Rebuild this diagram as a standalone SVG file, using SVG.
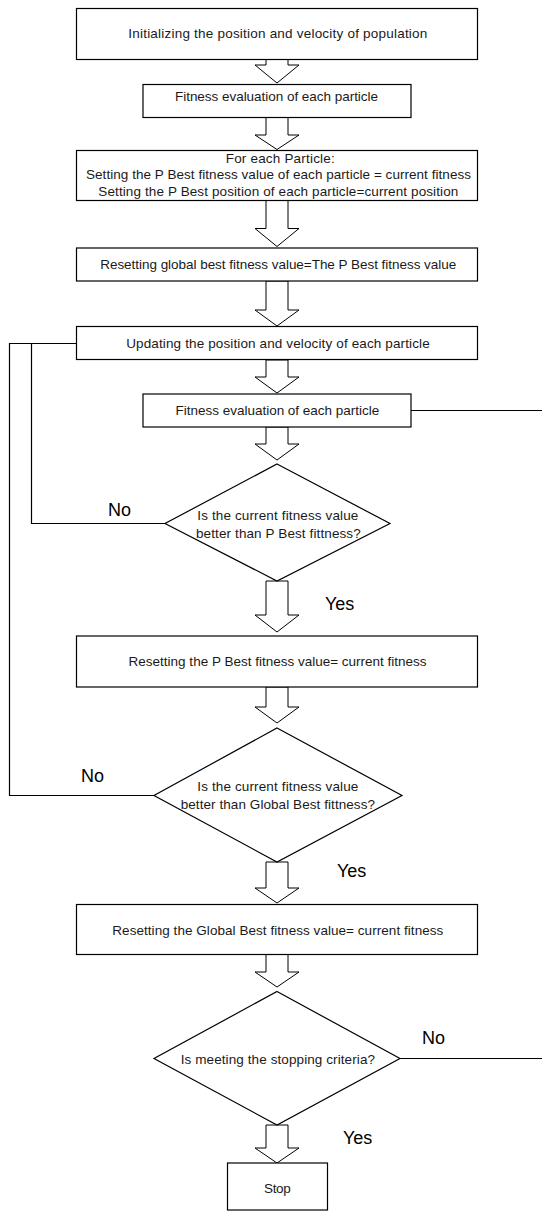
<svg xmlns="http://www.w3.org/2000/svg" width="542" height="1212" viewBox="0 0 542 1212">
<style>
.box{fill:#fff;stroke:#000;stroke-width:1.2}
.arr{fill:#fff;stroke:#000;stroke-width:1}
.ln{fill:none;stroke:#000;stroke-width:1.2}
.t{font-family:"Liberation Sans",Arial,sans-serif;font-size:13.5px;fill:#1a1a1a}
.lb{font-family:"Liberation Sans",Arial,sans-serif;font-size:18px;fill:#000}
</style>
<rect width="542" height="1212" fill="#fff"/>
<g id="connectors">
<polyline class="ln" points="154,795.5 9.5,795.5 9.5,343.5 76.5,343.5"/>
<polyline class="ln" points="165,523.5 31.5,523.5 31.5,343.5"/>
<line class="ln" x1="411" y1="410.5" x2="542" y2="410.5"/>
<line class="ln" x1="400" y1="1058.5" x2="542" y2="1058.5"/>
<polygon class="arr" points="266,59.5 288,59.5 288,65 299,65 277,83 255,65 266,65"/>
<polygon class="arr" points="266,117.5 288,117.5 288,135 299,135 277,149.5 255,135 266,135"/>
<polygon class="arr" points="266,200.5 288,200.5 288,228.5 299,228.5 277,246.5 255,228.5 266,228.5"/>
<polygon class="arr" points="266,281 288,281 288,310 299,310 277,326 255,310 266,310"/>
<polygon class="arr" points="266,360 288,360 288,377 299,377 277,393 255,377 266,377"/>
<polygon class="arr" points="266,427 288,427 288,444 299,444 277,460 255,444 266,444"/>
<polygon class="arr" points="266,581 288,581 288,615 299,615 277,632 255,615 266,615"/>
<polygon class="arr" points="266,687 288,687 288,707 299,707 277,723 255,707 266,707"/>
<polygon class="arr" points="266,862 288,862 288,888 299,888 277,903 255,888 266,888"/>
<polygon class="arr" points="266,954.5 288,954.5 288,972 299,972 277,987 255,972 266,972"/>
<polygon class="arr" points="266,1125 288,1125 288,1148 299,1148 277,1163 255,1148 266,1148"/>
<text class="lb" x="108" y="516">No</text>
<text class="lb" x="325" y="610">Yes</text>
<text class="lb" x="81" y="782">No</text>
<text class="lb" x="337" y="877">Yes</text>
<text class="lb" x="422" y="1044">No</text>
<text class="lb" x="343" y="1144">Yes</text>
</g>
<g id="n1"><rect class="box" x="76.5" y="8.5" width="401" height="51"/>
<text class="t" x="128.3" y="38" textLength="299">Initializing the position and velocity of population</text></g>
<g id="n2"><rect class="box" x="143" y="84.5" width="268" height="33"/>
<text class="t" x="175" y="101" textLength="203">Fitness evaluation of each particle</text></g>
<g id="n3"><rect class="box" x="76.5" y="150.5" width="401" height="50"/>
<text class="t" x="225.7" y="162.5" textLength="109">For each Particle:</text>
<text class="t" x="86" y="179" textLength="385">Setting the P Best fitness value of each particle = current fitness</text>
<text class="t" x="98.3" y="195.5" textLength="360">Setting the P Best position of each particle=current position</text></g>
<g id="n4"><rect class="box" x="76.5" y="248" width="401" height="33"/>
<text class="t" x="100.2" y="268.5" textLength="356">Resetting global best fitness value=The P Best fitness value</text></g>
<g id="n5"><rect class="box" x="76.5" y="326.5" width="401" height="33"/>
<text class="t" x="126.2" y="347.5" textLength="303.5">Updating the position and velocity of each particle</text></g>
<g id="n6"><rect class="box" x="143" y="394" width="268" height="33"/>
<text class="t" x="175.6" y="414.5" textLength="203.6">Fitness evaluation of each particle</text></g>
<g id="d1"><polygon class="box" points="277,464 390,523.5 277,581 165,523.5"/>
<text class="t" x="197.3" y="520" textLength="161">Is the current fitness value</text>
<text class="t" x="196" y="537.5" textLength="164.7">better than P Best fittness?</text></g>
<g id="n7"><rect class="box" x="76.5" y="636" width="401" height="51"/>
<text class="t" x="128.6" y="666" textLength="298">Resetting the P Best fitness value= current fitness</text></g>
<g id="d2"><polygon class="box" points="277,728 402,795.5 277,862 154,795.5"/>
<text class="t" x="197.3" y="791" textLength="161">Is the current fitness value</text>
<text class="t" x="180.7" y="809" textLength="194.3">better than Global Best fittness?</text></g>
<g id="n8"><rect class="box" x="76.5" y="904.5" width="401" height="50"/>
<text class="t" x="112.3" y="934.5" textLength="331">Resetting the Global Best fitness value= current fitness</text></g>
<g id="d3"><polygon class="box" points="277,991.5 400,1058.5 277,1125 154,1058.5"/>
<text class="t" x="180.7" y="1064" textLength="194.3">Is meeting the stopping criteria?</text></g>
<g id="stop"><rect class="box" x="227.5" y="1163" width="100" height="47"/>
<text class="t" x="264" y="1193" textLength="26.7">Stop</text></g>
</svg>
